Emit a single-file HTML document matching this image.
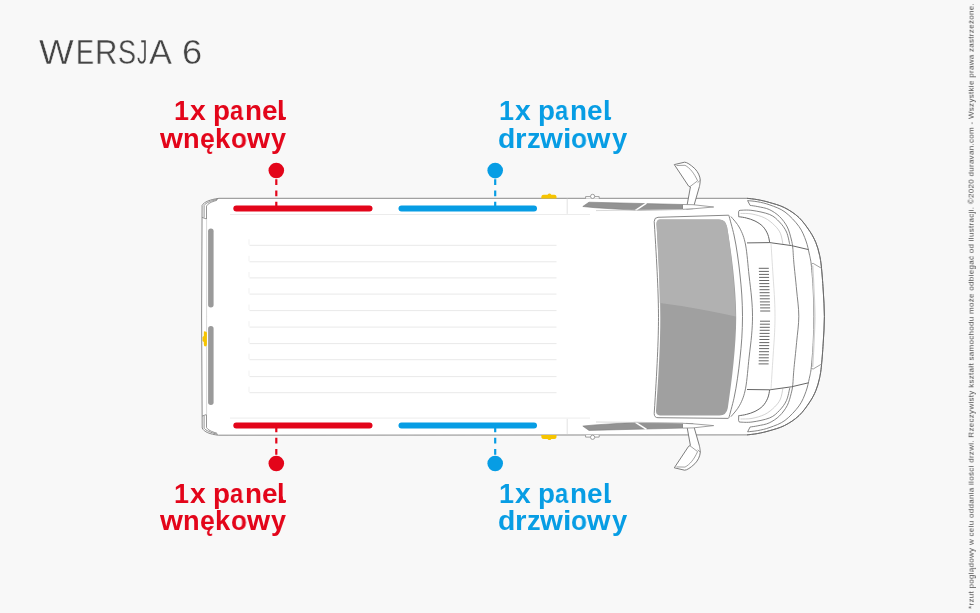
<!DOCTYPE html>
<html><head><meta charset="utf-8">
<style>
html,body{margin:0;padding:0;}
body{width:980px;height:613px;background:#f8f8f8;position:relative;overflow:hidden;font-family:"Liberation Sans",sans-serif;}
.t{position:absolute;white-space:nowrap;line-height:1;will-change:transform;}
.tl{top:34.6px;font-size:34.5px;color:#444;-webkit-text-stroke:0.4px #f8f8f8;transform-origin:0 0;}
.lab{font-weight:bold;font-size:27px;transform-origin:0 0;}
.red{color:#e3051a;}
.blue{color:#079de4;}
#note{will-change:transform;position:absolute;left:0;top:0;font-size:8px;line-height:1;color:#4c4c4c;white-space:nowrap;transform-origin:0 0;letter-spacing:0.3px;}
svg{position:absolute;left:0;top:0;}
</style></head>
<body>
<div class="t tl" style="left:39.09px;transform:scaleX(1.065);">W</div><div class="t tl" style="left:76.20px;transform:scaleX(0.786);">E</div><div class="t tl" style="left:95.09px;transform:scaleX(0.898);">R</div><div class="t tl" style="left:117.65px;transform:scaleX(0.783);">S</div><div class="t tl" style="left:136.83px;transform:scaleX(0.610);">J</div><div class="t tl" style="left:149.40px;transform:scaleX(0.996);">A</div><div class="t tl" style="left:181.91px;transform:scaleX(1.050);">6</div>
<svg width="980" height="613" viewBox="0 0 980 613">
<defs>
<g id="front" fill="none">
  <path d="M747.6,200.6 C749.3,200.8 754.1,201.1 757.8,201.8 C761.5,202.5 765.5,203.3 770.0,205.0 C774.5,206.7 780.2,208.4 785.0,212.0 C789.8,215.6 795.5,221.7 799.0,226.5 C802.5,231.3 804.3,236.4 806.0,241.0 C807.7,245.6 808.4,250.0 809.3,254.0 C810.2,258.0 810.6,259.0 811.3,265.0 C811.9,271.0 812.8,281.5 813.2,290.0 C813.6,298.5 813.9,307.5 813.9,316.2" stroke="#777" stroke-width="0.9"/>
<path d="M747.6,200.6 L750.1,205.4 L750.1,205.4 C751.4,205.6 754.6,205.9 757.8,206.6 C761.0,207.3 765.6,207.8 769.2,209.5 C772.8,211.2 776.5,213.6 779.5,216.5 C782.5,219.4 785.3,223.2 787.3,227.0 C789.2,230.8 790.3,235.5 791.2,239.0 C792.1,242.5 792.4,244.2 792.8,248.0 C793.2,251.8 793.2,255.0 793.8,262.0 C794.4,269.0 795.8,281.0 796.6,290.0 C797.4,299.0 798.8,307.5 798.8,316.2" stroke="#777" stroke-width="0.9"/>
<path d="M738.7,216.8 L738.6,211.8 Q738.7,210.3 740,210.3 C742.0,210.3 747.0,209.7 752.0,210.4 C757.0,211.1 765.1,212.6 769.7,214.5 C774.3,216.4 776.7,219.1 779.5,222.0 C782.3,224.9 784.8,228.2 786.5,232.0 C788.2,235.8 789.2,242.4 789.8,244.5" stroke="#777" stroke-width="0.9"/>
<path d="M740.5,213.4 C742.4,213.5 748.0,213.2 752.0,214.0 C756.0,214.8 761.0,216.1 764.8,218.0 C768.6,219.9 772.0,222.8 774.6,225.4 C777.2,228.0 779.0,230.2 780.4,233.3 C781.8,236.4 782.5,242.2 782.9,244.0" stroke="#bdbdbd" stroke-width="0.7"/>
<path d="M738.7,216.8 L739.6,216.8 C740.7,217.0 743.8,217.3 746.4,218.0 C749.0,218.7 752.3,219.6 755.0,221.0 C757.7,222.4 760.7,224.2 762.8,226.4 C764.9,228.6 766.6,231.5 767.7,234.2 C768.9,236.9 769.4,241.2 769.7,242.6" stroke="#666" stroke-width="1"/>
<path d="M747.0,242.9 L769.7,242.6 L791.5,245.6 L808.5,249.6" stroke="#666" stroke-width="1"/>
<path d="M771.0,243.0 C771.3,248.3 772.4,265.5 773.0,275.0 C773.6,284.5 774.3,293.1 774.6,300.0 C774.9,306.9 775.0,310.8 775.0,316.2" stroke="#d6d6d6" stroke-width="0.8"/>
<path d="M811.3,264.5 Q812,263.3 813.2,263.4 L821.3,268.2" stroke="#888" stroke-width="0.8"/>
<path d="M812.6,265.5 C813.6,285 814.6,300 814.8,316.2" stroke="#d4d4d4" stroke-width="1.6"/>
<path d="M688.6,186.1 L674.3,164.6 L684.6,162.2 Q688,162.3 694.9,168.7 C698,172 700,176 700.3,180.3 C700,184 699.4,186.6 699.4,186.6 L693.1,208.6 L686.4,209 L690.4,187 Z" fill="#fff" stroke="#6e6e6e" stroke-width="0.9" stroke-linejoin="round"/>
<path d="M676.5,165.5 L685,165.3 C690,168 694,173 697.6,180.8 L690,186.6" stroke="#8a8a8a" stroke-width="0.8"/>
<path d="M697.6,182.6 L700.3,180.3" stroke="#8a8a8a" stroke-width="0.8"/>
</g>
<g id="rear">
  <path d="M216.9,200.3 C211,202 208,203.5 206.5,206.1 L206.5,219 M202.1,217.4 L206.5,219 M204.1,205.2 L204.1,217.6 M204.1,205.2 C206,203 210,201 217.8,199.2" fill="none" stroke="#7a7a7a" stroke-width="0.8"/>
  <path d="M206.6,219 L206.6,317" fill="none" stroke="#d8d8d8" stroke-width="1"/>
  <rect x="208.1" y="228.6" width="5.5" height="79" rx="2.75" fill="#9a9a9a"/>
</g>
<g id="edge">
  <path d="M541.2,198.6 L541.5,196 Q542,194.8 544,194.8 L547.5,194.8 Q548.5,193.6 549.5,193.6 Q550.5,193.6 551.3,194.8 L554.5,194.8 Q556.3,194.8 556.5,196.5 L556.5,198.6 Z" fill="#f6c400"/>
  <path d="M585.6,198.6 L585.6,196.6 L599.2,196.6 L599.2,198.6" fill="#fff" stroke="#888" stroke-width="0.8"/>
  <circle cx="592.6" cy="196.4" r="2.1" fill="#fff" stroke="#888" stroke-width="0.8"/>
</g>
<g id="side">
  <path d="M567.2,198.6 L567.2,213.9" stroke="#dcdcdc" stroke-width="0.8"/>
  <path d="M230,214.5 L590,214.5" stroke="#ececec" stroke-width="1"/>
  <path d="M582.8,206.5 L589,202.2 L683,204.5 L683,209.3 L636,210.3 L595,207.7 Z" fill="#939393" stroke="#7a7a7a" stroke-width="0.6" stroke-linejoin="round"/>
  <path d="M646.5,203.2 L635.5,210.3" stroke="#fff" stroke-width="1.6"/>
  <path d="M683,204.5 L693,204.7 L713.7,207 L693,208.8 L683,209.3" fill="#fff" stroke="#8a8a8a" stroke-width="0.8" stroke-linejoin="round"/>
  <path d="M596,210.6 L683,209.6" stroke="#cfcfcf" stroke-width="0.8"/>
</g>
</defs>

<!-- body -->
<path d="M219,198.3 L747,198.3 C748.8,198.5 754.1,199.0 757.8,199.7 C761.5,200.4 764.8,201.1 769.2,202.4 C773.6,203.7 779.4,205.1 784.4,207.6 C789.4,210.1 794.8,213.6 799.0,217.6 C803.2,221.6 807.0,227.2 809.8,231.3 C812.6,235.5 814.2,238.7 815.8,242.5 C817.4,246.3 818.4,250.1 819.3,254.0 C820.2,257.9 820.6,260.0 821.3,266.0 C821.9,272.0 822.7,281.6 823.2,290.0 C823.7,298.4 824.4,307.7 824.4,316.6 C824.4,325.5 823.7,334.8 823.2,343.2 C822.7,351.6 821.9,361.2 821.3,367.2 C820.6,373.2 820.2,375.3 819.3,379.2 C818.4,383.1 817.4,386.9 815.8,390.7 C814.2,394.5 812.6,397.8 809.8,401.9 C807.0,406.1 803.2,411.7 799.0,415.6 C794.8,419.6 789.4,423.1 784.4,425.6 C779.4,428.1 773.6,429.5 769.2,430.8 C764.8,432.1 761.5,432.8 757.8,433.5 C754.1,434.2 748.8,434.7 747.0,434.9 L218.2,435.2 C210,434.2 204,432 202.2,428 L201.6,317 L202.1,205.4 C204,202 210,199.5 219,198.3 Z" fill="#fff" stroke="#8a8a8a" stroke-width="1"/>

<path d="M747.0,198.3 C748.8,198.5 754.1,199.0 757.8,199.7 C761.5,200.4 764.8,201.1 769.2,202.4 C773.6,203.7 779.4,205.1 784.4,207.6 C789.4,210.1 794.8,213.6 799.0,217.6 C803.2,221.6 807.0,227.2 809.8,231.3 C812.6,235.5 814.2,238.7 815.8,242.5 C817.4,246.3 818.4,250.1 819.3,254.0 C820.2,257.9 820.6,260.0 821.3,266.0 C821.9,272.0 822.7,281.6 823.2,290.0 C823.7,298.4 824.4,307.7 824.4,316.6 C824.4,325.5 823.7,334.8 823.2,343.2 C822.7,351.6 821.9,361.2 821.3,367.2 C820.6,373.2 820.2,375.3 819.3,379.2 C818.4,383.1 817.4,386.9 815.8,390.7 C814.2,394.5 812.6,397.8 809.8,401.9 C807.0,406.1 803.2,411.7 799.0,415.6 C794.8,419.6 789.4,423.1 784.4,425.6 C779.4,428.1 773.6,429.5 769.2,430.8 C764.8,432.1 761.5,432.8 757.8,433.5 C754.1,434.2 748.8,434.7 747.0,434.9" fill="none" stroke="#6a6a6a" stroke-width="1"/>
<path d="M728.8,215.2 C729.7,218.5 732.5,228.4 734.0,235.0 C735.5,241.6 736.5,248.3 737.5,255.0 C738.5,261.7 739.3,268.3 740.0,275.0 C740.7,281.7 741.4,288.1 741.8,295.0 C742.2,301.9 742.5,309.4 742.5,316.6 C742.5,323.8 742.2,331.3 741.8,338.2 C741.4,345.1 740.7,351.5 740.0,358.2 C739.3,364.9 738.5,371.5 737.5,378.2 C736.5,384.9 735.5,391.6 734.0,398.2 C732.5,404.8 729.7,414.7 728.8,418.0" fill="none" stroke="#777" stroke-width="0.9"/>
<path d="M730.9,216.5 C732.4,218.4 737.2,223.2 739.7,228.0 C742.2,232.8 744.1,237.2 745.6,245.0 C747.1,252.8 748.0,266.2 749.0,275.0 C750.0,283.8 751.0,291.1 751.6,298.0 C752.2,304.9 752.5,310.4 752.5,316.6 C752.5,322.8 752.2,328.3 751.6,335.2 C751.0,342.1 750.0,349.4 749.0,358.2 C748.0,367.0 747.1,380.4 745.6,388.2 C744.1,396.0 742.2,400.5 739.7,405.2 C737.2,410.0 732.4,414.8 730.9,416.7" fill="none" stroke="#777" stroke-width="0.9"/>
<use href="#front"/>
<use href="#front" transform="translate(0,632.4) scale(1,-1)"/>
<use href="#rear"/>
<use href="#rear" transform="translate(0,633.5) scale(1,-1)"/>
<use href="#side"/>
<use href="#side" transform="translate(0,632.6) scale(1,-1)"/>
<use href="#edge"/>
<use href="#edge" transform="translate(0,633.7) scale(1,-1)"/>
<path d="M204,331.2 Q206.9,331.2 206.9,333 L206.9,344.5 Q206.9,346.4 205,346.4 Q203.8,346.4 203.8,344 L203.8,342 L202.5,341 L202.5,337 L203.8,336 L203.8,333 Q203.8,331.2 204,331.2 Z" fill="#f6c400"/>

<!-- cargo floor lines -->
<path d="M249.5,245.3 H556.5 M249.5,261.8 H556.5 M249.5,277.9 H556.5 M249.5,294.1 H556.5 M249.5,310.6 H556.5 M249.5,327.1 H556.5 M249.5,343.6 H556.5 M249.5,359.7 H556.5 M249.5,376.6 H556.5 M249.5,392.7 H556.5" stroke="#e9e9e9" stroke-width="1" fill="none"/>
<path d="M249,239.3 V244.8 M249,255.8 V261.3 M249,271.9 V277.4 M249,288.1 V293.6 M249,304.6 V310.1 M249,321.1 V326.6 M249,337.6 V343.1 M249,353.7 V359.2 M249,370.6 V376.1 M249,386.7 V392.2" stroke="#f1f1f1" stroke-width="1" fill="none"/>

<!-- windshield -->
<path d="M654.2,221.5 Q654.2,217.4 658,217.3 L728.7,215.2 M654.2,221.5 C657,265 658.5,295 658.5,317.4 C658.5,340 657,370 654.2,413.5 Q654.2,417.7 658,417.7 L728.5,418.4" fill="none" stroke="#7a7a7a" stroke-width="0.9"/>
<path d="M660,219.4 L719,219.4 Q725.5,219.4 727,226.5 C732,255 736.2,290 736.2,317.4 C736.2,345 732,380 727.8,408 Q726.5,415.4 719.5,415.4 L660,415.4 Q656,415.4 656,411 C659,371 660.3,341 660.3,317.4 C660.3,294 659,264 656.5,224 Q656.5,219.4 660,219.4 Z" fill="#a0a0a0"/>
<path d="M660,219.4 L719,219.4 Q725.5,219.4 727,226.5 C731,250 734.5,285 735.8,316.5 C715,311.6 690,306.8 659.8,302.9 C659.5,280 658.5,260 656.5,224 Q656.5,219.4 660,219.4 Z" fill="#b1b1b1"/>

<!-- grille slats -->
<path d="M758.8,268.3 h10 M758.9,271.4 h10 M759.0,274.4 h10 M759.1,277.4 h10 M759.2,280.5 h10 M759.3,283.6 h10 M759.4,286.6 h10 M759.5,289.7 h10 M759.6,292.7 h10 M759.7,295.8 h10 M759.8,298.8 h10 M759.9,301.9 h10 M760.0,304.9 h10 M760.1,307.9 h10 M760.2,311.0 h10 M760.0,321.2 h10 M759.9,324.2 h10 M759.8,327.3 h10 M759.7,330.3 h10 M759.6,333.4 h10 M759.5,336.4 h10 M759.4,339.5 h10 M759.3,342.6 h10 M759.2,345.6 h10 M759.1,348.6 h10 M759.0,351.7 h10 M758.9,354.8 h10 M758.8,357.8 h10 M758.7,360.8 h10 M758.6,363.9 h10" stroke="#666" stroke-width="1"/>

<!-- colored bars -->
<g stroke-linecap="round" stroke-width="6">
  <line x1="236.3" y1="208.5" x2="369.5" y2="208.5" stroke="#e3051a"/>
  <line x1="401.5" y1="208.5" x2="534" y2="208.5" stroke="#079de4"/>
  <line x1="236.3" y1="425.5" x2="369.5" y2="425.5" stroke="#e3051a"/>
  <line x1="401.5" y1="425.5" x2="534" y2="425.5" stroke="#079de4"/>
</g>
<g stroke-width="2.2" stroke-dasharray="5.7,5.6">
  <line x1="276.3" y1="179.2" x2="276.3" y2="206" stroke="#e3051a"/>
  <line x1="495.2" y1="179.2" x2="495.2" y2="206" stroke="#079de4"/>
  <line x1="276.3" y1="454.8" x2="276.3" y2="428" stroke="#e3051a"/>
  <line x1="495.2" y1="454.8" x2="495.2" y2="428" stroke="#079de4"/>
</g>
<circle cx="276.3" cy="170.5" r="7.8" fill="#e3051a"/>
<circle cx="495.2" cy="170.6" r="7.8" fill="#079de4"/>
<circle cx="276.3" cy="463.5" r="7.8" fill="#e3051a"/>
<circle cx="495.2" cy="463.5" r="7.8" fill="#079de4"/>
<g>
  <path d="M281.8,113.5 L282.7,113.5 C282.7,117.2 283.6,117.2 286,117.1 L286,118.6 Q286,119.9 284.6,119.9 L281.8,119.9 Z" fill="#e3051a"/>
  <path d="M281.8,113.5 L282.7,113.5 C282.7,117.2 283.6,117.2 286,117.1 L286,118.6 Q286,119.9 284.6,119.9 L281.8,119.9 Z" fill="#079de4" transform="translate(325.1,0)"/>
  <path d="M281.8,113.5 L282.7,113.5 C282.7,117.2 283.6,117.2 286,117.1 L286,118.6 Q286,119.9 284.6,119.9 L281.8,119.9 Z" fill="#e3051a" transform="translate(0,383)"/>
  <path d="M281.8,113.5 L282.7,113.5 C282.7,117.2 283.6,117.2 286,117.1 L286,118.6 Q286,119.9 284.6,119.9 L281.8,119.9 Z" fill="#079de4" transform="translate(325.1,383)"/>
</g>
</svg>
<div class="t lab red" style="left:174.31px;top:97.90px;transform:scaleX(0.992);">1</div><div class="t lab red" style="left:189.89px;top:97.90px;transform:scaleX(1.048);">x</div><div class="t lab red" style="left:212.95px;top:97.90px;transform:scaleX(1.029);">p</div><div class="t lab red" style="left:230.21px;top:97.90px;transform:scaleX(0.880);">a</div><div class="t lab red" style="left:244.74px;top:97.90px;transform:scaleX(1.031);">n</div><div class="t lab red" style="left:261.87px;top:97.90px;transform:scaleX(1.031);">e</div><div class="t lab red" style="left:277.40px;top:97.90px;transform:scaleX(1.000);">l</div><div class="t lab red" style="left:160.21px;top:125.80px;transform:scaleX(1.090);">w</div><div class="t lab red" style="left:183.49px;top:125.80px;transform:scaleX(1.008);">n</div><div class="t lab red" style="left:200.42px;top:125.80px;transform:scaleX(0.985);">ę</div><div class="t lab red" style="left:215.27px;top:125.80px;transform:scaleX(1.015);">k</div><div class="t lab red" style="left:230.54px;top:125.80px;transform:scaleX(0.965);">o</div><div class="t lab red" style="left:246.71px;top:125.80px;transform:scaleX(1.100);">w</div><div class="t lab red" style="left:271.20px;top:125.80px;transform:scaleX(0.993);">y</div><div class="t lab blue" style="left:499.41px;top:97.90px;transform:scaleX(0.992);">1</div><div class="t lab blue" style="left:514.99px;top:97.90px;transform:scaleX(1.048);">x</div><div class="t lab blue" style="left:538.05px;top:97.90px;transform:scaleX(1.029);">p</div><div class="t lab blue" style="left:555.31px;top:97.90px;transform:scaleX(0.880);">a</div><div class="t lab blue" style="left:569.84px;top:97.90px;transform:scaleX(1.031);">n</div><div class="t lab blue" style="left:586.97px;top:97.90px;transform:scaleX(1.031);">e</div><div class="t lab blue" style="left:602.50px;top:97.90px;transform:scaleX(1.000);">l</div><div class="t lab blue" style="left:498.24px;top:125.80px;transform:scaleX(1.051);">d</div><div class="t lab blue" style="left:514.93px;top:125.80px;transform:scaleX(1.096);">r</div><div class="t lab blue" style="left:526.69px;top:125.80px;transform:scaleX(1.009);">z</div><div class="t lab blue" style="left:540.21px;top:125.80px;transform:scaleX(1.090);">w</div><div class="t lab blue" style="left:563.05px;top:125.80px;transform:scaleX(1.120);">i</div><div class="t lab blue" style="left:570.83px;top:125.80px;transform:scaleX(0.972);">o</div><div class="t lab blue" style="left:587.01px;top:125.80px;transform:scaleX(1.114);">w</div><div class="t lab blue" style="left:611.70px;top:125.80px;transform:scaleX(1.014);">y</div><div class="t lab red" style="left:174.31px;top:480.50px;transform:scaleX(0.992);">1</div><div class="t lab red" style="left:189.89px;top:480.50px;transform:scaleX(1.048);">x</div><div class="t lab red" style="left:212.95px;top:480.50px;transform:scaleX(1.029);">p</div><div class="t lab red" style="left:230.21px;top:480.50px;transform:scaleX(0.880);">a</div><div class="t lab red" style="left:244.74px;top:480.50px;transform:scaleX(1.031);">n</div><div class="t lab red" style="left:261.87px;top:480.50px;transform:scaleX(1.031);">e</div><div class="t lab red" style="left:277.40px;top:480.50px;transform:scaleX(1.000);">l</div><div class="t lab red" style="left:160.21px;top:507.50px;transform:scaleX(1.090);">w</div><div class="t lab red" style="left:183.49px;top:507.50px;transform:scaleX(1.008);">n</div><div class="t lab red" style="left:200.42px;top:507.50px;transform:scaleX(0.985);">ę</div><div class="t lab red" style="left:215.27px;top:507.50px;transform:scaleX(1.015);">k</div><div class="t lab red" style="left:230.54px;top:507.50px;transform:scaleX(0.965);">o</div><div class="t lab red" style="left:246.71px;top:507.50px;transform:scaleX(1.100);">w</div><div class="t lab red" style="left:271.20px;top:507.50px;transform:scaleX(0.993);">y</div><div class="t lab blue" style="left:499.41px;top:480.50px;transform:scaleX(0.992);">1</div><div class="t lab blue" style="left:514.99px;top:480.50px;transform:scaleX(1.048);">x</div><div class="t lab blue" style="left:538.05px;top:480.50px;transform:scaleX(1.029);">p</div><div class="t lab blue" style="left:555.31px;top:480.50px;transform:scaleX(0.880);">a</div><div class="t lab blue" style="left:569.84px;top:480.50px;transform:scaleX(1.031);">n</div><div class="t lab blue" style="left:586.97px;top:480.50px;transform:scaleX(1.031);">e</div><div class="t lab blue" style="left:602.50px;top:480.50px;transform:scaleX(1.000);">l</div><div class="t lab blue" style="left:498.24px;top:507.50px;transform:scaleX(1.051);">d</div><div class="t lab blue" style="left:514.93px;top:507.50px;transform:scaleX(1.096);">r</div><div class="t lab blue" style="left:526.69px;top:507.50px;transform:scaleX(1.009);">z</div><div class="t lab blue" style="left:540.21px;top:507.50px;transform:scaleX(1.090);">w</div><div class="t lab blue" style="left:563.05px;top:507.50px;transform:scaleX(1.120);">i</div><div class="t lab blue" style="left:570.83px;top:507.50px;transform:scaleX(0.972);">o</div><div class="t lab blue" style="left:587.01px;top:507.50px;transform:scaleX(1.114);">w</div><div class="t lab blue" style="left:611.70px;top:507.50px;transform:scaleX(1.014);">y</div>
<div id="note" style="transform:translate(967.6px,609px) rotate(-90deg);">*rzut poglądowy w celu oddania ilości drzwi. Rzeczywisty kształt samochodu może odbiegać od ilustracji. ©2020 duravan.com - Wszystkie prawa zastrzeżone.</div>
</body></html>
